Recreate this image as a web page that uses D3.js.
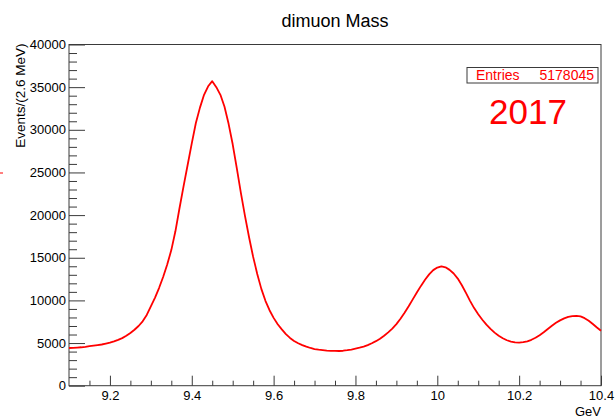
<!DOCTYPE html>
<html>
<head>
<meta charset="utf-8">
<script src="https://cdn.jsdelivr.net/npm/d3@7"></script>
<style>
  html, body { margin: 0; padding: 0; background: #fff; }
  svg { display: block; }
  text { font-family: "Liberation Sans", Arial, Helvetica, sans-serif; }
</style>
</head>
<body>
<svg id="chart" width="615" height="418"></svg>
<script>
// ---- data ----
const chartTitle = "dimuon Mass";
const xTitle = "GeV";
const yTitle = "Events/(2.6 MeV)";
const entriesLabel = "Entries";
const entriesValue = "5178045";
const yearLabel = "2017";
const massStart = 9.10;   // GeV, first sample
const massStep = 0.01;    // GeV between samples
const events = [
  4420, 4440, 4470, 4505, 4560, 4630, 4700, 4760, 4830, 4930,
  5040, 5200, 5380, 5580, 5850, 6180, 6560, 7000, 7550, 8300,
  9300, 10300, 11450, 12750, 14200, 15900, 18100, 20800, 23400, 25900,
  28400, 30800, 32600, 34100, 35100, 35700, 35000, 34100, 32700, 30700,
  28300, 25500, 22600, 19900, 17400, 15100, 13100, 11350, 9950, 8850,
  7950, 7200, 6600, 6050, 5600, 5250, 4980, 4760, 4580, 4420,
  4300, 4220, 4160, 4110, 4085, 4075, 4070, 4100, 4160, 4240,
  4340, 4450, 4580, 4750, 4970, 5220, 5500, 5850, 6250, 6700,
  7220, 7850, 8560, 9320, 10120, 10920, 11700, 12420, 13050, 13550,
  13850, 14000, 13880, 13580, 13150, 12560, 11780, 10880, 9950, 9100,
  8380, 7730, 7160, 6660, 6220, 5850, 5560, 5330, 5170, 5080,
  5060, 5100, 5200, 5380, 5620, 5920, 6260, 6640, 7020, 7370,
  7660, 7890, 8060, 8160, 8190, 8120, 7920, 7620, 7230, 6820,
  6448
];
const xMajorTicks = [9.2, 9.4, 9.6, 9.8, 10.0, 10.2, 10.4];
const xTickLabels = ["9.2", "9.4", "9.6", "9.8", "10", "10.2", "10.4"];
const xMinorTicks = [9.15, 9.25, 9.3, 9.35, 9.45, 9.5, 9.55, 9.65, 9.7, 9.75, 9.85, 9.9, 9.95,
                     10.05, 10.1, 10.15, 10.25, 10.3, 10.35];
const yMajorTicks = [0, 5000, 10000, 15000, 20000, 25000, 30000, 35000, 40000];
const yMinorStep = 1000;
const xDomain = [9.1, 10.4];
const yDomain = [0, 40000];

// ---- layout ----
const frame = { left: 69, right: 601, top: 44.5, bottom: 385.7 };
const svg = d3.select("#chart");
const x = d3.scaleLinear().domain(xDomain).range([frame.left, frame.right]);
const y = d3.scaleLinear().domain(yDomain).range([frame.bottom, frame.top]);
const axisColor = "#3a3a3a";
const red = "#ff0000";

const points = events.map((v, i) => ({ m: massStart + i * massStep, v }));

// title
svg.append("text")
  .attr("x", (frame.left + frame.right) / 2).attr("y", 26.5)
  .attr("text-anchor", "middle").attr("font-size", 18).attr("fill", "#000")
  .text(chartTitle);

// frame
svg.append("rect")
  .attr("x", frame.left).attr("y", frame.top)
  .attr("width", frame.right - frame.left).attr("height", frame.bottom - frame.top)
  .attr("fill", "none").attr("stroke", axisColor).attr("stroke-width", 1);

// y axis (ticks inward)
const yMinor = d3.range(0, 40001, yMinorStep).filter(v => v % 5000 !== 0);
const yAxisMinor = svg.append("g").attr("transform", `translate(${frame.left},0)`)
  .call(d3.axisLeft(y).tickValues(yMinor).tickSize(-8).tickFormat(""));
const yAxisMajor = svg.append("g").attr("transform", `translate(${frame.left},0)`)
  .call(d3.axisLeft(y).tickValues(yMajorTicks).tickSize(-16).tickPadding(3).tickFormat(d3.format("d")));
[yAxisMinor, yAxisMajor].forEach(g => {
  g.select(".domain").remove();
  g.selectAll("line").attr("stroke", axisColor);
  g.selectAll("text").attr("font-size", 13).attr("fill", "#000")
    .attr("font-family", "'Liberation Sans', Arial, Helvetica, sans-serif");
});

// x axis (ticks inward)
const xAxisMinor = svg.append("g").attr("transform", `translate(0,${frame.bottom})`)
  .call(d3.axisBottom(x).tickValues(xMinorTicks).tickSize(-5).tickFormat(""));
const xAxisMajor = svg.append("g").attr("transform", `translate(0,${frame.bottom})`)
  .call(d3.axisBottom(x).tickValues(xMajorTicks).tickSize(-10).tickPadding(5)
    .tickFormat((d, i) => xTickLabels[i]));
[xAxisMinor, xAxisMajor].forEach(g => {
  g.select(".domain").remove();
  g.selectAll("line").attr("stroke", axisColor);
  g.selectAll("text").attr("font-size", 13).attr("fill", "#000")
    .attr("font-family", "'Liberation Sans', Arial, Helvetica, sans-serif");
});

// axis titles
svg.append("text")
  .attr("x", frame.right).attr("y", 416)
  .attr("text-anchor", "end").attr("font-size", 13).attr("fill", "#000")
  .text(xTitle);
svg.append("text")
  .attr("transform", `translate(25,${frame.top - 1}) rotate(-90)`)
  .attr("text-anchor", "end").attr("font-size", 13.5).attr("fill", "#000")
  .text(yTitle);

// small red mark at left edge
svg.append("line").attr("x1", 0).attr("x2", 3).attr("y1", 173).attr("y2", 173)
  .attr("stroke", red).attr("stroke-width", 1);

// histogram line
const line = d3.line().x(d => x(d.m)).y(d => y(d.v)).curve(d3.curveLinear);
svg.append("path").datum(points)
  .attr("d", line).attr("fill", "none")
  .attr("stroke", red).attr("stroke-width", 1.8).attr("stroke-linejoin", "round");

// stats box
const box = { x: 467, y: 67.5, w: 131, h: 15.5 };
svg.append("rect")
  .attr("x", box.x).attr("y", box.y).attr("width", box.w).attr("height", box.h)
  .attr("fill", "#fff").attr("stroke", axisColor).attr("stroke-width", 1);
svg.append("text").attr("x", box.x + 9).attr("y", box.y + 12.5)
  .attr("font-size", 14).attr("fill", red).text(entriesLabel);
svg.append("text").attr("x", box.x + box.w - 4).attr("y", box.y + 12.5)
  .attr("text-anchor", "end").attr("font-size", 14).attr("fill", red).text(entriesValue);

// year label
svg.append("text").attr("x", 528).attr("y", 124)
  .attr("text-anchor", "middle").attr("font-size", 35).attr("fill", red)
  .text(yearLabel);
</script>
</body>
</html>
